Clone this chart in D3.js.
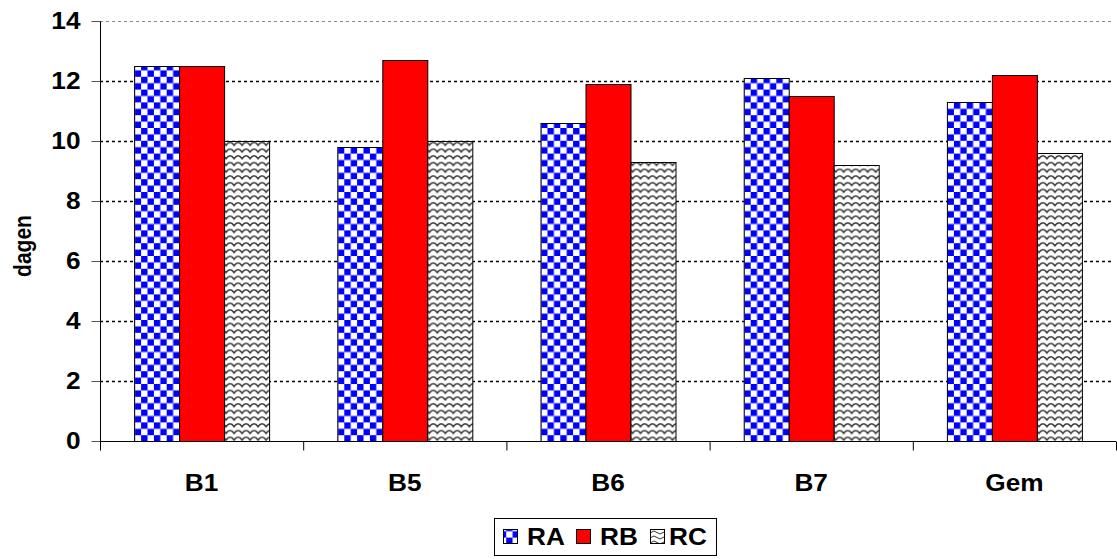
<!DOCTYPE html>
<html>
<head>
<meta charset="utf-8">
<script src="https://cdn.jsdelivr.net/npm/d3@7"></script>
<style>
html,body{margin:0;padding:0;background:#fff;}
svg{display:block;font-family:"Liberation Sans",Arial,sans-serif;font-weight:bold;}
</style>
</head>
<body>
<svg id="chart" width="1117" height="559"></svg>
<script>
const categories = ["B1","B5","B6","B7","Gem"];
const seriesNames = ["RA","RB","RC"];
const RA = [12.5, 9.8, 10.6, 12.1, 11.3];
const RB = [12.5, 12.7, 11.9, 11.5, 12.2];
const RC = [10.0, 10.0, 9.3, 9.2, 9.6];
const yTicks = [0,2,4,6,8,10,12,14];
const yLabel = "dagen";

const svg = d3.select("#chart");
const x0 = 100, x1 = 1116, yTop = 21, yBot = 441;
const FS = 23, SX = 1.14;

const defs = svg.append("defs");
// checkerboard
const c = 6.4;
const pc = defs.append("pattern").attr("id","checker").attr("patternUnits","userSpaceOnUse")
  .attr("x",135).attr("y",0).attr("width",2*c).attr("height",2*c);
pc.append("rect").attr("width",2*c).attr("height",2*c).attr("fill","#fff");
pc.append("rect").attr("x",0).attr("y",0).attr("width",c).attr("height",c).attr("fill","#0000ff");
pc.append("rect").attr("x",c).attr("y",c).attr("width",c).attr("height",c).attr("fill","#0000ff");
// wave
const pw = defs.append("pattern").attr("id","wave").attr("patternUnits","userSpaceOnUse")
  .attr("width",8).attr("height",6.7);
pw.append("rect").attr("width",8).attr("height",6.7).attr("fill","#fff");
pw.append("path").attr("d","M0,1.6 Q2,1.6 4,4.6 Q6,1.6 8,1.6").attr("fill","none")
  .attr("stroke","#3a3a3a").attr("stroke-width",1.5);
// legend wave (larger)
const pw2 = defs.append("pattern").attr("id","wave2").attr("patternUnits","userSpaceOnUse")
  .attr("width",12).attr("height",5);
pw2.append("rect").attr("width",12).attr("height",5).attr("fill","#fff");
pw2.append("path").attr("d","M0,4 L6,1 L12,4").attr("fill","none").attr("stroke","#333").attr("stroke-width",1);

const fills = {RA:"url(#checker)", RB:"#ff0000", RC:"url(#wave)"};
const legendFills = {RA:"url(#checker)", RB:"#ff0000", RC:"url(#wave2)"};
const data = {RA, RB, RC};

const x = d3.scaleBand().domain(categories).range([x0, x1]).paddingInner(0).paddingOuter(0);
const groupW = x.bandwidth() * (135/203.2);
const xs = d3.scaleBand().domain(seriesNames).range([0, groupW]).padding(0);
const y = d3.scaleLinear().domain([0,14]).range([yBot, yTop]);

// gridlines
svg.append("g").selectAll("line").data(yTicks.filter(d=>d>0)).join("line")
  .attr("x1",x0).attr("x2",x1-4)
  .attr("y1",d=>y(d)+0.5).attr("y2",d=>y(d)+0.5)
  .attr("stroke",d=>d===14?"#888":"#000")
  .attr("stroke-width",d=>d===14?1:1.6)
  .attr("stroke-dasharray","3,3");

// bars
const groups = svg.append("g").selectAll("g").data(categories).join("g")
  .attr("transform",cat=>`translate(${x(cat) + (x.bandwidth()-groupW)/2},0)`);
groups.selectAll("rect").data((cat,i)=>seriesNames.map(s=>({s, v:data[s][i]}))).join("rect")
  .attr("x",d=>xs(d.s)+0.5)
  .attr("y",d=>y(d.v)+0.5)
  .attr("width",xs.bandwidth())
  .attr("height",d=>yBot - y(d.v))
  .attr("fill",d=>fills[d.s])
  .attr("stroke","#000").attr("stroke-width",1);

// y axis
const yAxis = svg.append("g").attr("transform",`translate(${x0+0.5},0)`)
  .call(d3.axisLeft(y).tickValues(yTicks).tickSize(9).tickPadding(0).tickFormat(d3.format("d")));
yAxis.select(".domain").attr("stroke","#000").attr("d",`M0,${yTop}V${yBot}`);
yAxis.selectAll(".tick line").attr("stroke","#555");
yAxis.selectAll("text").attr("x",null).attr("font-size",FS).attr("font-weight","bold").attr("fill","#000")
  .attr("font-family","Liberation Sans, Arial, sans-serif")
  .attr("transform",`translate(-20,0) scale(${SX},1)`);

// x axis
const xAxis = svg.append("g").attr("transform",`translate(0,${yBot+0.5})`);
xAxis.append("line").attr("x1",x0).attr("x2",x1).attr("y1",0).attr("y2",0).attr("stroke","#000");
const bounds = categories.map(cat=>x(cat)).concat([x1]);
xAxis.selectAll("line.t").data(bounds).join("line").attr("class","t")
  .attr("x1",d=>d+0.5).attr("x2",d=>d+0.5).attr("y1",0).attr("y2",9).attr("stroke","#000");
xAxis.selectAll("text").data(categories).join("text")
  .attr("transform",cat=>`translate(${x(cat)+x.bandwidth()/2},49) scale(${SX},1)`)
  .attr("text-anchor","middle").attr("font-size",FS).attr("fill","#000").text(cat=>cat);

// y label
svg.append("text").attr("transform","translate(31,246) rotate(-90) scale(1,1.14)")
  .attr("text-anchor","middle").attr("font-size",21).attr("fill","#000").text(yLabel);

// legend
const lg = svg.append("g");
lg.append("rect").attr("x",494.5).attr("y",518.5).attr("width",222).attr("height",37)
  .attr("fill","#fff").attr("stroke","#000");
const items = [{s:"RA",sx:503,tx:527},{s:"RB",sx:576,tx:600},{s:"RC",sx:650,tx:669}];
lg.selectAll("rect.sw").data(items).join("rect").attr("class","sw")
  .attr("x",d=>d.sx+0.5).attr("y",529.5).attr("width",14).attr("height",14)
  .attr("fill",d=>legendFills[d.s]).attr("stroke","#000");
lg.selectAll("text").data(items).join("text")
  .attr("transform",d=>`translate(${d.tx},545) scale(${SX},1)`)
  .attr("font-size",FS).attr("fill","#000").text(d=>d.s);
</script>
</body>
</html>
